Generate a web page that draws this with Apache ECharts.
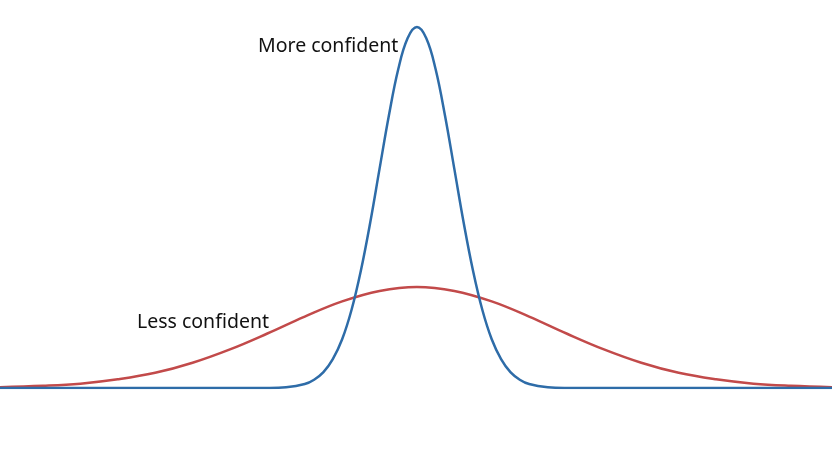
<!DOCTYPE html>
<html>
<head>
<meta charset="utf-8">
<script src="https://cdn.jsdelivr.net/npm/echarts@6/dist/echarts.min.js"></script>
<style>
html,body{margin:0;padding:0;background:#fff;}
#chart{width:832px;height:468px;}
</style>
</head>
<body>
<div id="chart"></div>
<script>
// x positions (arbitrary units, centre of both curves at 0)
const blueX = [-11.2, -6, -5, -4, -3.5, -3, -2.75, -2.5, -2.25, -2, -1.75, -1.5, -1.25, -1, -0.75, -0.5, -0.25, 0,
               0.25, 0.5, 0.75, 1, 1.25, 1.5, 1.75, 2, 2.25, 2.5, 2.75, 3, 3.5, 4, 5, 6, 11.2];
const blueY = [0, 0, 0, 0.0003, 0.0022, 0.011, 0.023, 0.044, 0.080, 0.135, 0.216, 0.325, 0.458, 0.607, 0.755, 0.883, 0.969, 1.0,
               0.969, 0.883, 0.755, 0.607, 0.458, 0.325, 0.216, 0.135, 0.080, 0.044, 0.023, 0.011, 0.0022, 0.0003, 0, 0, 0];
const redX = [-11.2, -10, -9, -8, -7, -6, -5, -4, -3, -2, -1, 0, 1, 2, 3, 4, 5, 6, 7, 8, 9, 10, 11.2];
const redY = [0.002, 0.006, 0.012, 0.024, 0.042, 0.070, 0.107, 0.151, 0.198, 0.240, 0.269, 0.280,
              0.269, 0.240, 0.198, 0.151, 0.107, 0.070, 0.042, 0.024, 0.012, 0.006, 0.002];
const labels = ['More confident', 'Less confident'];

const chart = echarts.init(document.getElementById('chart'));
chart.setOption({
  backgroundColor: '#ffffff',
  animation: false,
  grid: {left: 0, right: 0, top: 9, bottom: 80},
  xAxis: {type: 'value', min: -11.15, max: 11.1, show: false},
  yAxis: {type: 'value', min: 0, max: 1.05, show: false},
  series: [
    {
      name: labels[1], type: 'line', smooth: 0.4, showSymbol: false,
      data: redX.map((x, i) => [x, redY[i]]),
      lineStyle: {color: '#c24a4a', width: 2.5}, z: 2
    },
    {
      name: labels[0], type: 'line', smooth: 0.4, showSymbol: false,
      data: blueX.map((x, i) => [x, blueY[i]]),
      lineStyle: {color: '#2e6ca8', width: 2.5}, z: 3
    }
  ],
  graphic: [
    {type: 'text', left: 258, top: 36, style: {text: labels[0], font: '19.5px "Noto Sans", sans-serif', fill: '#111'}},
    {type: 'text', left: 137, top: 312, style: {text: labels[1], font: '19.5px "Noto Sans", sans-serif', fill: '#111'}}
  ]
});
</script>
</body>
</html>
